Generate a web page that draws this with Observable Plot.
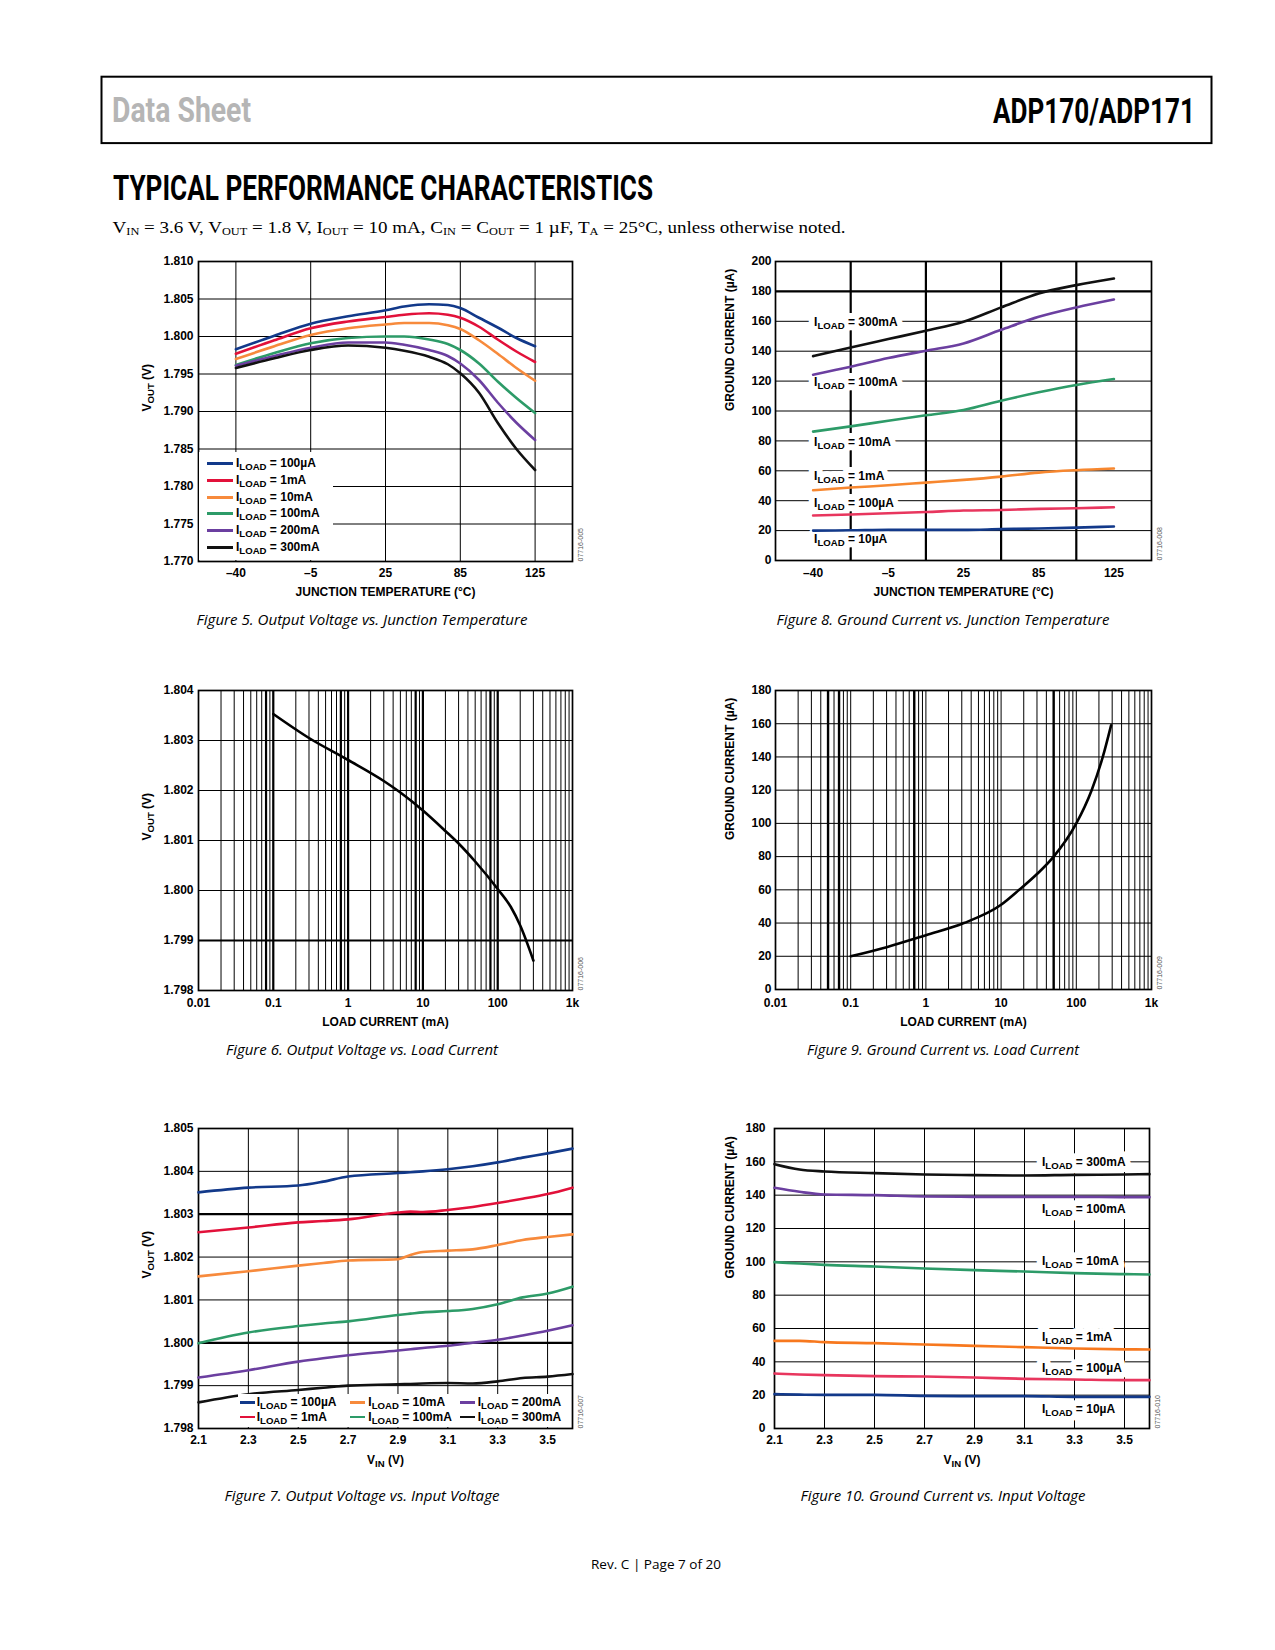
<!DOCTYPE html>
<html><head><meta charset="utf-8">
<script src="https://cdn.jsdelivr.net/npm/d3@7"></script>
<script src="https://cdn.jsdelivr.net/npm/@observablehq/plot@0.6"></script>
<style>
body{margin:0;background:#fff;}
#page{position:relative;width:1275px;height:1650px;overflow:hidden;background:#fff;}
.chart{position:absolute;}
.chart svg{display:block;max-width:none;}
.legend{position:absolute;background:#fff;font:bold 12px "Liberation Sans",Arial,Helvetica,sans-serif;color:#000;}
.legend .row{position:absolute;height:14px;}
.legend .sw{position:absolute;}
.legend .lb{position:absolute;top:0;line-height:14px;white-space:nowrap;}
.legend sub{font-size:80%;vertical-align:-0.28em;line-height:0;}
</style></head>
<body>
<div id="page">
<svg id="deco" width="1275" height="1650" style="position:absolute;left:0;top:0">
  <rect x="101.5" y="76.7" width="1110" height="66.4" fill="none" stroke="#000" stroke-width="2"/>
  <text x="112" y="122" font-family="Roboto,'Liberation Sans',sans-serif" font-weight="700" font-size="35" fill="#b5b5b5" textLength="139" lengthAdjust="spacingAndGlyphs">Data Sheet</text>
  <text x="993" y="123" font-family="Roboto,'Liberation Sans',sans-serif" font-weight="700" font-size="35" fill="#000" textLength="202" lengthAdjust="spacingAndGlyphs">ADP170/ADP171</text>
  <text x="113" y="200" font-family="Roboto,'Liberation Sans',sans-serif" font-weight="700" font-size="35" fill="#000" textLength="540" lengthAdjust="spacingAndGlyphs">TYPICAL PERFORMANCE CHARACTERISTICS</text>
  <text x="112.6" y="233" font-family="'Liberation Serif','Times New Roman',serif" font-size="17" fill="#000" textLength="733" lengthAdjust="spacingAndGlyphs">V<tspan font-size="11" dy="1.5">IN</tspan><tspan dy="-1.5"> = 3.6 V, V</tspan><tspan font-size="11" dy="1.5">OUT</tspan><tspan dy="-1.5"> = 1.8 V, I</tspan><tspan font-size="11" dy="1.5">OUT</tspan><tspan dy="-1.5"> = 10 mA, C</tspan><tspan font-size="11" dy="1.5">IN</tspan><tspan dy="-1.5"> = C</tspan><tspan font-size="11" dy="1.5">OUT</tspan><tspan dy="-1.5"> = 1 µF, T</tspan><tspan font-size="11" dy="1.5">A</tspan><tspan dy="-1.5"> = 25°C, unless otherwise noted.</tspan></text>
  <g font-family="'Open Sans','Noto Sans',sans-serif" font-style="italic" font-size="15" fill="#000" text-anchor="middle">
    <text x="362" y="625" textLength="331" lengthAdjust="spacingAndGlyphs">Figure 5. Output Voltage vs. Junction Temperature</text>
    <text x="943" y="625" textLength="333" lengthAdjust="spacingAndGlyphs">Figure 8. Ground Current vs. Junction Temperature</text>
    <text x="362" y="1055" textLength="272" lengthAdjust="spacingAndGlyphs">Figure 6. Output Voltage vs. Load Current</text>
    <text x="943" y="1055" textLength="272" lengthAdjust="spacingAndGlyphs">Figure 9. Ground Current vs. Load Current</text>
    <text x="362" y="1500.5" textLength="275" lengthAdjust="spacingAndGlyphs">Figure 7. Output Voltage vs. Input Voltage</text>
    <text x="943" y="1500.5" textLength="285" lengthAdjust="spacingAndGlyphs">Figure 10. Ground Current vs. Input Voltage</text>
  </g>
  <text x="656" y="1569" font-family="'Open Sans','Noto Sans',sans-serif" font-size="13" fill="#000" text-anchor="middle" textLength="130" lengthAdjust="spacingAndGlyphs">Rev. C | Page 7 of 20</text>
</svg>
</div>
<script>
// ---------------- DATA ----------------
const loadNames = ["100µA", "1mA", "10mA", "100mA", "200mA", "300mA"];
const gndNames = ["300mA", "100mA", "10mA", "1mA", "100µA", "10µA"];
const tempTicks = [-40, -5, 25, 85, 125];

// Figure 5: VOUT vs junction temperature
const fig5Temps = [-40, -22, -5, 10, 25, 40, 60, 75, 85, 95, 105, 115, 125];
const fig5_100uA = [1.7983, 1.8001, 1.8017, 1.8027, 1.8035, 1.8040, 1.8043, 1.8042, 1.8038, 1.8025, 1.8012, 1.7998, 1.7987];
const fig5_1mA   = [1.7977, 1.7995, 1.8011, 1.8020, 1.8026, 1.8029, 1.8031, 1.8029, 1.8025, 1.8013, 1.7996, 1.7980, 1.7966];
const fig5_10mA  = [1.7970, 1.7987, 1.8002, 1.8011, 1.8016, 1.8018, 1.8018, 1.8015, 1.8010, 1.7995, 1.7977, 1.7958, 1.7941];
const fig5_100mA = [1.7962, 1.7978, 1.7991, 1.7998, 1.8000, 1.8000, 1.7996, 1.7990, 1.7982, 1.7964, 1.7940, 1.7918, 1.7898];
const fig5_200mA = [1.7961, 1.7974, 1.7985, 1.7992, 1.7992, 1.7989, 1.7982, 1.7974, 1.7964, 1.7942, 1.7912, 1.7885, 1.7862];
const fig5_300mA = [1.7958, 1.7971, 1.7982, 1.7988, 1.7985, 1.7981, 1.7973, 1.7963, 1.7951, 1.7925, 1.7885, 1.7850, 1.7822];
const fig5YTicks = [1.770, 1.775, 1.780, 1.785, 1.790, 1.795, 1.800, 1.805, 1.810];

// Figure 8: ground current vs junction temperature
const fig8Temps = [-40, -22.5, -5, 10, 25, 55, 85, 105, 125];
const fig8_300mA = [136.7, 142.5, 148.1, 153.7, 159.7, 169.3, 178.6, 184.2, 188.6];
const fig8_100mA = [124.3, 129.6, 135.4, 140.3, 145.2, 154.3, 163.0, 169.3, 174.6];
const fig8_10mA  = [86.2, 89.7, 93.5, 97.1, 100.7, 106.9, 112.5, 117.4, 121.4];
const fig8_1mA   = [47.0, 48.8, 50.3, 52.1, 53.9, 56.1, 58.8, 60.4, 61.5];
const fig8_100uA = [30.1, 30.8, 31.6, 32.4, 33.4, 33.8, 34.5, 35.0, 35.6];
const fig8_10uA  = [20.0, 20.2, 20.5, 20.5, 20.5, 21.0, 21.4, 22.0, 22.7];
const fig8LabelY = [159.3, 119.3, 79.1, 56.2, 38.6, 14.5];
const fig8YTicks = [0, 20, 40, 60, 80, 100, 120, 140, 160, 180, 200];

// Figure 6: VOUT vs load current
const fig6Load = [0.1, 0.3, 1, 3, 5, 10, 20, 30, 50, 100, 150, 200, 300];
const fig6Vout = [1.80353, 1.80305, 1.80261, 1.80219, 1.80196, 1.80160, 1.80119, 1.80094, 1.80058, 1.80003, 1.79967, 1.79930, 1.79860];
const fig6YTicks = [1.798, 1.799, 1.800, 1.801, 1.802, 1.803, 1.804];
const fig6Heavy = [0.08, 0.1, 0.8, 1, 8, 10, 80, 100];

// Figure 9: ground current vs load current
const fig9Load = [0.1, 0.3, 1, 3.2, 10, 17.4, 30, 50, 100, 160, 225, 290];
const fig9Gnd  = [20.0, 25.5, 32.7, 40.0, 51.0, 60.0, 69.5, 80.0, 100.0, 120.0, 140.0, 159.0];
const fig9YTicks = [0, 20, 40, 60, 80, 100, 120, 140, 160, 180];
const fig9Heavy = [0.05, 0.07, 0.7, 50];

const logTicks = [0.01, 0.1, 1, 10, 100, 1000];
const logLabels = ["0.01", "0.1", "1", "10", "100", "1k"];

// Figure 7: VOUT vs input voltage
const fig7Vin = [2.1, 2.3, 2.5, 2.6, 2.7, 2.9, 2.95, 3.0, 3.1, 3.2, 3.3, 3.4, 3.5, 3.6];
const fig7_100uA = [1.80351, 1.80362, 1.80367, 1.80376, 1.80388, 1.80396, 1.80398, 1.80400, 1.80405, 1.80412, 1.80421, 1.80432, 1.80442, 1.80453];
const fig7_1mA   = [1.80258, 1.80269, 1.80281, 1.80284, 1.80288, 1.80304, 1.80306, 1.80305, 1.80310, 1.80317, 1.80326, 1.80336, 1.80347, 1.80362];
const fig7_10mA  = [1.80155, 1.80167, 1.80180, 1.80186, 1.80192, 1.80195, 1.80205, 1.80212, 1.80215, 1.80218, 1.80228, 1.80240, 1.80247, 1.80253];
const fig7_100mA = [1.79999, 1.80024, 1.80039, 1.80045, 1.80050, 1.80065, 1.80068, 1.80071, 1.80074, 1.80079, 1.80090, 1.80106, 1.80115, 1.80131];
const fig7_200mA = [1.79919, 1.79936, 1.79956, 1.79964, 1.79971, 1.79982, 1.79985, 1.79988, 1.79993, 1.80000, 1.80007, 1.80017, 1.80028, 1.80041];
const fig7_300mA = [1.79861, 1.79880, 1.79890, 1.79895, 1.79900, 1.79903, 1.79904, 1.79905, 1.79906, 1.79905, 1.79910, 1.79918, 1.79921, 1.79927];
const fig7YTicks = [1.798, 1.799, 1.800, 1.801, 1.802, 1.803, 1.804, 1.805];
const fig7Heavy = [1.800, 1.803];
const vinTicks = [2.1, 2.3, 2.5, 2.7, 2.9, 3.1, 3.3, 3.5];

// Figure 10: ground current vs input voltage
const fig10Vin = [2.1, 2.2, 2.3, 2.5, 2.7, 2.9, 3.1, 3.3, 3.5, 3.6];
const fig10_300mA = [158.6, 155.4, 154.2, 153.2, 152.4, 152.0, 151.8, 152.2, 152.4, 152.6];
const fig10_100mA = [144.4, 142.0, 140.4, 140.0, 139.2, 139.0, 139.0, 139.0, 138.8, 138.8];
const fig10_10mA  = [99.8, 99.0, 98.2, 97.2, 96.0, 95.0, 94.2, 93.2, 92.6, 92.4];
const fig10_1mA   = [52.6, 52.6, 51.8, 51.2, 50.4, 49.6, 48.8, 48.0, 47.5, 47.4];
const fig10_100uA = [33.0, 32.4, 32.0, 31.4, 31.2, 30.6, 29.8, 29.4, 29.0, 29.0];
const fig10_10uA  = [20.6, 20.3, 20.2, 20.2, 19.6, 19.4, 19.4, 19.0, 19.0, 19.0];
const fig10LabelX = 3.17;
const fig10LabelY = [159.6, 131.6, 100.2, 55.0, 36.2, 11.6];
const fig10YTicks = [0, 20, 40, 60, 80, 100, 120, 140, 160, 180];

// colours
const loadColors = ["#12398a", "#e2113a", "#f78a3c", "#2d9b68", "#6b3fa0", "#111111"];
const gndColors8 = ["#111111", "#6b3fa0", "#2d9b68", "#f7872f", "#e8365e", "#12398a"];
const gndColors10 = ["#111111", "#6b3fa0", "#2d9b68", "#f7781e", "#e8365e", "#12398a"];

// ---------------- HELPERS ----------------
const FONT = '"Liberation Sans", Arial, Helvetica, sans-serif';
const NS = "http://www.w3.org/2000/svg";
const page = document.getElementById("page");
const tPos = d3.scaleLinear().domain(tempTicks).range([0, 1, 2, 3, 4]);
const tempLabel = i => String(tempTicks[i]).replace("-", "\u2013");
const f3 = d3.format(".3f");

function rows(xs, names, series) {
  const out = [];
  names.forEach((n, k) => series[k].forEach((v, i) => out.push({x: xs[i], y: v, s: n})));
  return out;
}
function logGrid() {
  const g = [];
  for (let e = -2; e <= 2; e++) for (let m = 1; m <= 9; m++) g.push(+(m * Math.pow(10, e)).toPrecision(3));
  g.push(1000);
  return g;
}
function applySubs(root) {
  root.querySelectorAll("text").forEach(t => {
    const s = t.textContent;
    if (!s.includes("_{")) return;
    const fs = parseFloat(getComputedStyle(t).fontSize) || 12;
    const shift = (fs * 0.26).toFixed(2);
    while (t.firstChild) t.removeChild(t.firstChild);
    let pendingBack = false;
    s.split(/(_\{[^}]*\})/).forEach(p => {
      if (!p) return;
      const ts = document.createElementNS(NS, "tspan");
      if (p.startsWith("_{")) {
        ts.textContent = p.slice(2, -1);
        ts.setAttribute("font-size", (fs * 0.8).toFixed(2));
        ts.setAttribute("dy", shift);
        pendingBack = true;
      } else {
        ts.textContent = p;
        if (pendingBack) { ts.setAttribute("dy", "-" + shift); pendingBack = false; }
      }
      t.appendChild(ts);
    });
  });
}
function place(svg, left, top, width) {
  const div = document.createElement("div");
  div.className = "chart";
  div.style.left = left + "px";
  div.style.top = top + "px";
  div.style.width = width + "px";
  div.appendChild(svg);
  page.appendChild(div);
  applySubs(svg);
}
const baseStyle = {fontFamily: FONT, fontSize: "12px", fontWeight: "bold", color: "#000", background: "transparent", overflow: "visible"};
const gridStyle = {stroke: "#000", strokeOpacity: 1, strokeWidth: 1};
function titles(xTitle, xdy, yTitle, ydx, id) {
  return [
    Plot.text([xTitle], {frameAnchor: "bottom", dy: xdy, fontSize: 12, fontWeight: "bold", fill: "#000"}),
    Plot.text([yTitle], {frameAnchor: "left", rotate: -90, dx: ydx, fontSize: 12, fontWeight: "bold", fill: "#000"}),
    Plot.text([id], {frameAnchor: "bottom-right", rotate: -90, textAnchor: "start", dx: 10, fontSize: 7, fontWeight: "normal", fill: "#555"})
  ];
}
// direct labels: a white halo layer first, then the black text on top
function haloLabels(data, opts) {
  const common = {text: "label", textAnchor: "start", fontSize: 12, fontWeight: "bold", ...opts};
  return [
    Plot.text(data, {...common, fill: "#fff", stroke: "#fff", strokeWidth: 12, strokeLinejoin: "round"}),
    Plot.text(data, {...common, fill: "#000"})
  ];
}
function legendBox(left, top, width, height) {
  const d = document.createElement("div");
  d.className = "legend";
  Object.assign(d.style, {left: left + "px", top: top + "px", width: width + "px", height: height + "px"});
  page.appendChild(d);
  return d;
}
function legendItem(box, cx, cy, swW, swH, lx, color, name) {
  const r = document.createElement("div");
  r.className = "row";
  r.style.left = "0px"; r.style.top = (cy - 7) + "px"; r.style.width = "100%";
  const sw = document.createElement("div");
  sw.className = "sw";
  Object.assign(sw.style, {left: cx + "px", top: (7 - swH / 2 + 0.5) + "px", width: swW + "px", height: swH + "px", background: color});
  const lb = document.createElement("div");
  lb.className = "lb";
  lb.style.left = lx + "px";
  lb.innerHTML = "I<sub>LOAD</sub> = " + name;
  r.appendChild(sw); r.appendChild(lb);
  box.appendChild(r);
}

// ---------------- FIGURE 5 ----------------
{
  const data = rows(fig5Temps, loadNames, [fig5_100uA, fig5_1mA, fig5_10mA, fig5_100mA, fig5_200mA, fig5_300mA]);
  const svg = Plot.plot({
    width: 490, height: 375, marginLeft: 98, marginRight: 18, marginTop: 21, marginBottom: 54,
    style: baseStyle,
    x: {domain: [-0.5, 4.5], axis: null},
    y: {domain: [1.770, 1.810], axis: null},
    color: {domain: loadNames, range: loadColors},
    marks: [
      Plot.gridY(fig5YTicks, gridStyle),
      Plot.gridX([0, 1, 2, 3, 4], gridStyle),
      Plot.axisX([0, 1, 2, 3, 4], {tickSize: 0, tickPadding: 7, tickFormat: tempLabel, label: null}),
      Plot.axisY(fig5YTicks, {tickSize: 0, tickPadding: 5, tickFormat: f3, label: null}),
      Plot.frame({stroke: "#000", strokeWidth: 1.7}),
      Plot.line(data, {x: d => tPos(d.x), y: "y", z: "s", stroke: "s", strokeWidth: 2.6, curve: "monotone-x"}),
      ...titles("JUNCTION TEMPERATURE (°C)", 34, "V_{OUT} (V)", -51, "07716-005")
    ]
  });
  place(svg, 100, 240, 490);
  const box = legendBox(199, 452, 134, 107.5);
  loadNames.forEach((n, i) => legendItem(box, 8.3, 11.3 + i * 16.7, 25.4, 2.8, 37, loadColors[i], n));
}

// ---------------- FIGURE 8 ----------------
{
  const data = rows(fig8Temps, gndNames, [fig8_300mA, fig8_100mA, fig8_10mA, fig8_1mA, fig8_100uA, fig8_10uA]);
  const labels = gndNames.map((n, i) => ({t: tempTicks[0], v: fig8LabelY[i], label: "I_{LOAD} = " + n}));
  const svg = Plot.plot({
    width: 490, height: 375, marginLeft: 95, marginRight: 19, marginTop: 21, marginBottom: 55,
    style: baseStyle,
    x: {domain: [-0.5, 4.5], axis: null},
    y: {domain: [0, 200], axis: null},
    color: {domain: gndNames, range: gndColors8},
    marks: [
      Plot.gridY(fig8YTicks, gridStyle),
      Plot.gridY([180], {stroke: "#000", strokeOpacity: 1, strokeWidth: 2.2}),
      Plot.gridX([0.5, 1.5, 2.5, 3.5], {stroke: "#000", strokeOpacity: 1, strokeWidth: 2.2}),
      Plot.axisX([0, 1, 2, 3, 4], {tickSize: 0, tickPadding: 8, tickFormat: tempLabel, label: null}),
      Plot.axisY(fig8YTicks, {tickSize: 0, tickPadding: 4, label: null}),
      ...haloLabels(labels, {x: d => tPos(d.t), y: "v", dx: 1}),
      Plot.frame({stroke: "#000", strokeWidth: 1.7}),
      Plot.line(data, {x: d => tPos(d.x), y: "y", z: "s", stroke: "s", strokeWidth: 2.6, curve: "monotone-x"}),
      ...titles("JUNCTION TEMPERATURE (°C)", 35, "GROUND CURRENT (µA)", -45, "07716-008")
    ]
  });
  place(svg, 680, 240, 490);
}

// ---------------- FIGURE 6 ----------------
{
  const data = fig6Load.map((x, i) => ({x, y: fig6Vout[i]}));
  const svg = Plot.plot({
    width: 490, height: 375, marginLeft: 98, marginRight: 18, marginTop: 20, marginBottom: 55,
    style: baseStyle,
    x: {type: "log", domain: [0.01, 1000], axis: null},
    y: {domain: [1.798, 1.804], axis: null},
    marks: [
      Plot.gridY(fig6YTicks, gridStyle),
      Plot.gridY([1.799], {stroke: "#000", strokeOpacity: 1, strokeWidth: 2.2}),
      Plot.ruleX(logGrid(), gridStyle),
      Plot.ruleX(fig6Heavy, {stroke: "#000", strokeWidth: 2.2}),
      Plot.axisX(logTicks, {tickSize: 0, tickPadding: 8, tickFormat: d => logLabels[logTicks.indexOf(d)], label: null}),
      Plot.axisY(fig6YTicks, {tickSize: 0, tickPadding: 5, tickFormat: f3, label: null}),
      Plot.frame({stroke: "#000", strokeWidth: 1.7}),
      Plot.line(data, {x: "x", y: "y", stroke: "#000", strokeWidth: 2.6, curve: "monotone-x"}),
      ...titles("LOAD CURRENT (mA)", 35, "V_{OUT} (V)", -51, "07716-006")
    ]
  });
  place(svg, 100, 670, 490);
}

// ---------------- FIGURE 9 ----------------
{
  const data = fig9Load.map((x, i) => ({x, y: fig9Gnd[i]}));
  const svg = Plot.plot({
    width: 490, height: 375, marginLeft: 95, marginRight: 19, marginTop: 20, marginBottom: 56,
    style: baseStyle,
    x: {type: "log", domain: [0.01, 1000], axis: null},
    y: {domain: [0, 180], axis: null},
    marks: [
      Plot.gridY(fig9YTicks, gridStyle),
      Plot.ruleX(logGrid(), gridStyle),
      Plot.ruleX(fig9Heavy, {stroke: "#000", strokeWidth: 2.4}),
      Plot.axisX(logTicks, {tickSize: 0, tickPadding: 9, tickFormat: d => logLabels[logTicks.indexOf(d)], label: null}),
      Plot.axisY(fig9YTicks, {tickSize: 0, tickPadding: 4, label: null}),
      Plot.frame({stroke: "#000", strokeWidth: 1.7}),
      Plot.line(data, {x: "x", y: "y", stroke: "#000", strokeWidth: 2.6, curve: "monotone-x"}),
      ...titles("LOAD CURRENT (mA)", 36, "GROUND CURRENT (µA)", -45, "07716-009")
    ]
  });
  place(svg, 680, 670, 490);
}

// ---------------- FIGURE 7 ----------------
{
  const data = rows(fig7Vin, loadNames, [fig7_100uA, fig7_1mA, fig7_10mA, fig7_100mA, fig7_200mA, fig7_300mA]);
  const svg = Plot.plot({
    width: 490, height: 375, marginLeft: 98, marginRight: 18, marginTop: 20, marginBottom: 55,
    style: baseStyle,
    x: {domain: [2.1, 3.6], axis: null},
    y: {domain: [1.798, 1.805], axis: null},
    color: {domain: loadNames, range: loadColors},
    marks: [
      Plot.gridY(fig7YTicks, gridStyle),
      Plot.gridY(fig7Heavy, {stroke: "#000", strokeOpacity: 1, strokeWidth: 2.2}),
      Plot.gridX(vinTicks, gridStyle),
      Plot.axisX(vinTicks, {tickSize: 0, tickPadding: 7, tickFormat: d3.format(".1f"), label: null}),
      Plot.axisY(fig7YTicks, {tickSize: 0, tickPadding: 5, tickFormat: f3, label: null}),
      Plot.frame({stroke: "#000", strokeWidth: 1.7}),
      Plot.line(data, {x: "x", y: "y", z: "s", stroke: "s", strokeWidth: 2.6, curve: "monotone-x"}),
      ...titles("V_{IN} (V)", 35, "V_{OUT} (V)", -51, "07716-007")
    ]
  });
  place(svg, 100, 1108, 490);
  const box = legendBox(238, 1394, 333, 33.2);
  const order = [[0, 0], [2, 1], [4, 2], [1, 0], [3, 1], [5, 2]];
  const colSw = [2, 112, 222], colLb = [18.7, 130.3, 239.7];
  order.forEach(([k, c], j) => legendItem(box, colSw[c], j < 3 ? 8.3 : 22.7, 14.5, 2.6, colLb[c], loadColors[k], loadNames[k]));
}

// ---------------- FIGURE 10 ----------------
{
  const data = rows(fig10Vin, gndNames, [fig10_300mA, fig10_100mA, fig10_10mA, fig10_1mA, fig10_100uA, fig10_10uA]);
  const labels = gndNames.map((n, i) => ({x: fig10LabelX, v: fig10LabelY[i], label: "I_{LOAD} = " + n}));
  const svg = Plot.plot({
    width: 490, height: 375, marginLeft: 94, marginRight: 21, marginTop: 20, marginBottom: 55,
    style: baseStyle,
    x: {domain: [2.1, 3.6], axis: null},
    y: {domain: [0, 180], axis: null},
    color: {domain: gndNames, range: gndColors10},
    marks: [
      Plot.gridY(fig10YTicks, gridStyle),
      Plot.gridX(vinTicks, gridStyle),
      Plot.axisX(vinTicks, {tickSize: 0, tickPadding: 7, tickFormat: d3.format(".1f"), label: null}),
      Plot.axisY(fig10YTicks, {tickSize: 0, tickPadding: 9, label: null}),
      ...haloLabels(labels, {x: "x", y: "v"}),
      Plot.frame({stroke: "#000", strokeWidth: 1.7}),
      Plot.line(data, {x: "x", y: "y", z: "s", stroke: "s", strokeWidth: 2.6, curve: "monotone-x"}),
      ...titles("V_{IN} (V)", 35, "GROUND CURRENT (µA)", -44, "07716-010")
    ]
  });
  place(svg, 680, 1108, 490);
}
</script>
</body></html>
